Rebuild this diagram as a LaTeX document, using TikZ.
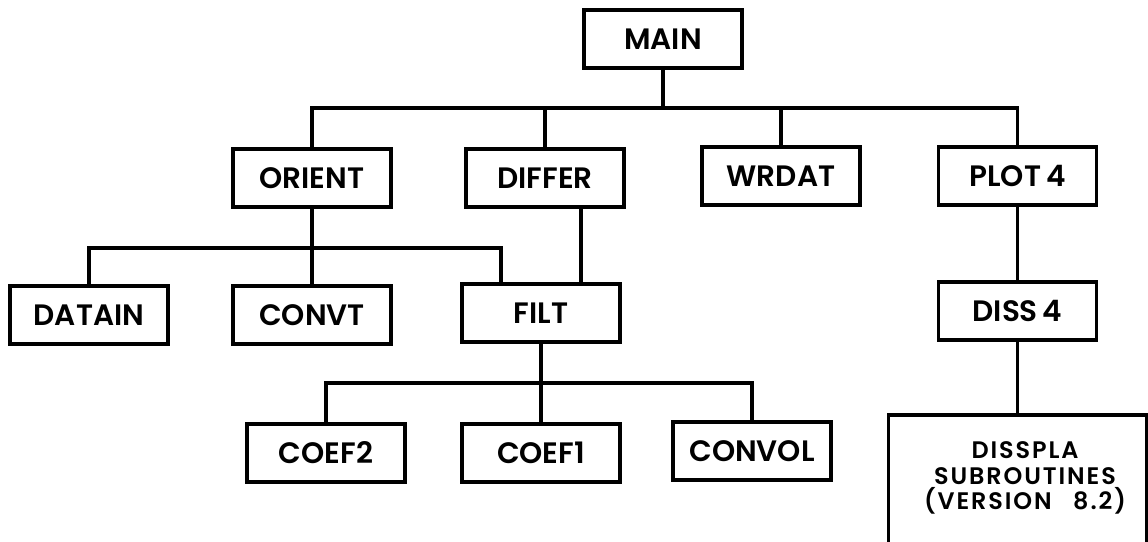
\documentclass[tikz,border=0pt]{standalone}
\usepackage{fontspec}
\setmainfont{Poppins SemiBold}
\newfontfamily\widefont{Poppins SemiBold}[LetterSpace=8]

\tikzset{
	prog/.style={draw, line width=2.6pt, minimum width=3.95cm, minimum height=1.45cm, inner sep=0pt, font=\fontsize{21}{24}\selectfont},
	link/.style={line width=2.3pt}
}

\begin{document}
\begin{tikzpicture}[x=0.025cm, y=-0.025cm]
	\useasboundingbox (0, 0) rectangle (1148, 541);
	\clip (0, 0) rectangle (1148, 541);
	\node (main) [prog] at (663, 39) {MAIN};
	\node (orient) [prog] at (312, 178) {ORIENT};
	\node (differ) [prog] at (545, 178) {DIFFER};
	\node (wrdat) [prog] at (781, 176) {WRDAT};
	\node (plot) [prog] at (1017.5, 176) {PLOT\,4};
	\node (datain) [prog] at (89, 315) {DATAIN};
	\node (convt) [prog] at (312, 315) {CONVT};
	\node (filt) [prog] at (541, 313) {FILT};
	\node (diss) [prog] at (1017.5, 311) {DISS\,4};
	\node (coeftwo) [prog] at (326, 453) {COEF2};
	\node (coefone) [prog] at (541, 453) {COEF1};
	\node (convol) [prog] at (752, 451) {CONVOL};
	\node (disspla) [prog, anchor=north, minimum width=6.45cm, minimum height=4cm] at (1017.5, 413) {};
	\node (disspla text) [text width=6.2cm, align=center, inner sep=0pt, font=\widefont\fontsize{17}{18}\selectfont] at (1025, 478) {DISSPLA\\SUBROUTINES\\(VERSION\hspace{0.9em}8.2)};
	\coordinate (topbus) at (0, 108);
	\coordinate (orientbus) at (0, 248);
	\coordinate (filtbus) at (0, 383);
	\draw[link] (main.south) -- (main.south |- topbus);
	\draw[link] (orient.north) |- (plot.north |- topbus) -- (plot.north);
	\draw[link] (differ.north) -- (differ.north |- topbus);
	\draw[link] (wrdat.north) -- (wrdat.north |- topbus);
	\draw[link] (orient.south) -- (orient.south |- orientbus);
	\draw[link] (datain.north) |- ([xshift=-1cm]filt.north |- orientbus) -- ([xshift=-1cm]filt.north);
	\draw[link] (convt.north) -- (convt.north |- orientbus);
	\draw[link] ([xshift=1cm]filt.north |- differ.south) -- ([xshift=1cm]filt.north);
	\draw[link] (filt.south) -- (filt.south |- filtbus);
	\draw[link] (coeftwo.north) |- (convol.north |- filtbus) -- (convol.north);
	\draw[link] (coefone.north) -- (coefone.north |- filtbus);
	\draw[link] (plot) -- (diss);
	\draw[link] (diss) -- (disspla);
\end{tikzpicture}
\end{document}
